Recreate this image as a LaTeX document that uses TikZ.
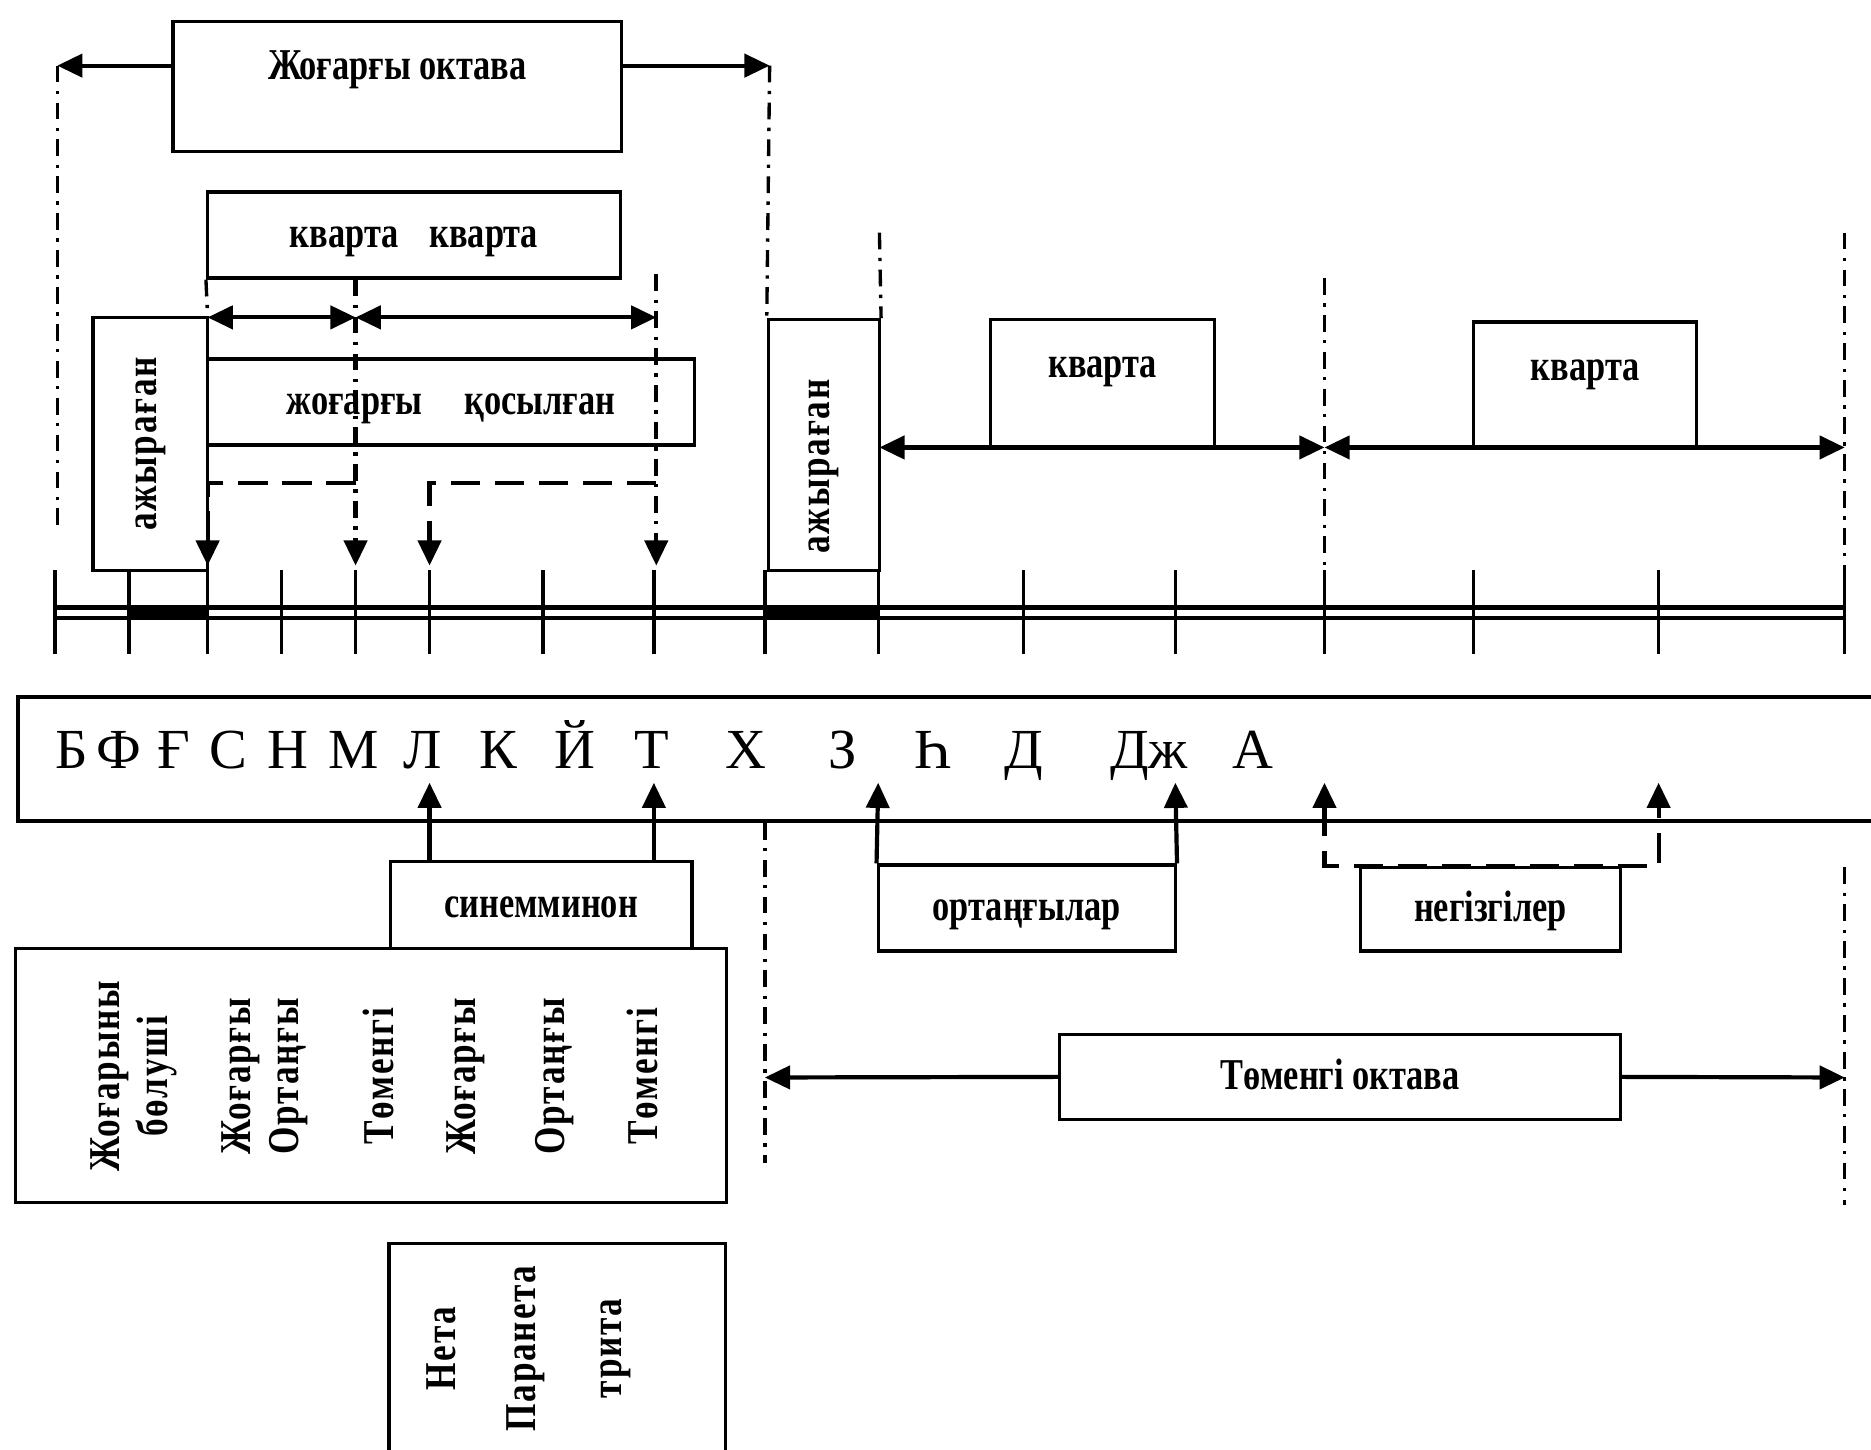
\documentclass[tikz,border=0pt]{standalone}
\usepackage{fontspec}
\setmainfont{Liberation Serif}
\newfontfamily\labfont{Liberation Serif}[FakeStretch=0.78]
\newfontfamily\colfont{Liberation Serif}[FakeStretch=0.8, LetterSpace=4]
\usetikzlibrary{positioning, calc, arrows.meta}

\tikzset{
  box/.style={draw, line width=0.8pt, fill=white, inner sep=0pt,
    text height=2.6mm, text depth=0.5mm,
    font=\labfont\bfseries\fontsize{10.5}{12}\selectfont},
  lab/.style={inner sep=0pt, text height=2.6mm, text depth=0.5mm,
    font=\labfont\bfseries\fontsize{10.5}{12}\selectfont},
  vtxt/.style={rotate=90, inner sep=0pt, align=center,
    font=\colfont\bfseries\fontsize{10.5}{11.5}\selectfont},
  letter/.style={inner sep=0pt, anchor=base, font=\fontsize{13.5}{16}\selectfont},
  arr/.style={line width=1pt, -{Triangle[length=6pt,width=5.5pt]}},
  darr/.style={line width=1pt, {Triangle[length=6pt,width=5.5pt]}-{Triangle[length=6pt,width=5.5pt]}},
  dashdot/.style={line width=0.8pt, dash pattern=on 4pt off 2pt on 0.8pt off 2pt},
  brk/.style={line width=1.1pt, dash pattern=on 7pt off 3.5pt},
}

\begin{document}
\begin{tikzpicture}[x=0.1mm, y=-0.1mm]
  \clip (0,0) rectangle (1568,1215);
  \fill[white] (0,0) rectangle (1568,1215);

  % upper part
  \node[box, minimum width=37.6mm, minimum height=10.9mm] (upoct) at (333,72.5) {};
  \node[lab] (upoctlab) at (333,56) {Жоғарғы октава};
  \node[box, minimum width=34.6mm, minimum height=7.2mm] (kk) at (347,197) {кварта\hspace{2.6mm}кварта};
  \node[box, minimum width=40.8mm, minimum height=7.2mm] (jq) at (378,337) {жоғарғы\hspace{3.5mm}қосылған};
  \node[box, minimum width=9.6mm, minimum height=21.2mm] (ajyA) at (126,372) {};
  \node[vtxt] (ajyAlab) at (ajyA) {ажыраған};
  \node[box, minimum width=9.3mm, minimum height=21mm] (ajyB) at (690.5,373) {};
  \node[vtxt] (ajyBlab) at ([yshift=-1.8mm]ajyB.center) {ажыраған};
  \node[box, minimum width=18.8mm, minimum height=10.7mm] (kvA) at (924,321.5) {};
  \node[lab] (kvAlab) at ([yshift=1.55mm]kvA.center) {кварта};
  \node[box, minimum width=18.7mm, minimum height=10.5mm] (kvB) at (1328.5,322.5) {};
  \node[lab] (kvBlab) at ([yshift=1.45mm]kvB.center) {кварта};

  \coordinate (ul) at (48,55);
  \coordinate (ur) at (645,55);
  \draw[arr] (upoct.west |- ul) -- (ul);
  \draw[arr] (upoct.east |- ur) -- (ur);
  \draw[dashdot] (ul) -- (48,445);
  \draw[dashdot] (ur) -- (ajyB.north west);

  % quarts over the upper tetrachords
  \coordinate (a1) at (174,266);
  \coordinate (a2) at (298,266);
  \coordinate (a3) at (550,266);
  \foreach \x in {174,298,360,550}
    \coordinate (dn\x) at (\x,474);
  \draw[dashdot] (kk.south west) -- (a1);
  \draw[darr] (a1) -- (a2);
  \draw[darr] (a2) -- (a3);
  \draw[dashdot, arr] (kk.south -| a2) -- (dn298);
  \draw[dashdot, arr] (550,230) -- (dn550);
  \draw[brk, arr] (298,405) -- (174,405) -- (dn174);
  \draw[brk, arr] (550,405) -- (360,405) -- (dn360);

  \coordinate (m1) at (737,375);
  \coordinate (m2) at (1110,375);
  \coordinate (m3) at (1546,375);
  \draw[dashdot] (737,195) -- (ajyB.north east);
  \draw[dashdot] (1110,233) -- (1110,478);
  \draw[dashdot] (1546,195) -- (1546,478);
  \draw[darr] (m1) -- (m2);
  \draw[darr] (m2) -- (m3);

  % scale
  \foreach \x in {46,108,174,236,298,360,455,548,641,736,858,985,1110,1235,1390,1546}
    \draw[line width=0.8pt] (\x,478) -- (\x,548);
  \draw[line width=1.1pt] (46,509) -- (1546,509);
  \draw[line width=1.1pt] (46,518) -- (1546,518);
  \fill (108,507) rectangle (174,520);
  \fill (641,507) rectangle (736,520);

  % letters
  \node[draw, line width=0.9pt, inner sep=0pt, minimum width=158.5mm, minimum height=10.4mm] (row) at (807.5,636) {};
  \foreach \l/\x in {Б/60, Ф/100, Ғ/146, С/191, Н/241, М/296, Л/354, К/418, Й/482, Т/546,
                     Х/625, З/706, Һ/782, Д/858, Дж/963, А/1050}
    \node[letter] (let\x) at (\x,644) {\l};

  % lower part
  \node[box, minimum width=25.3mm, minimum height=7.3mm] (sin) at (453.5,758.5) {синемминон};
  \node[box, minimum width=24.9mm, minimum height=7.2mm] (ort) at (860.5,761) {ортаңғылар};
  \node[box, minimum width=21.8mm, minimum height=7mm] (neg) at (1249,762) {негізгілер};
  \node[box, minimum width=47mm, minimum height=7.1mm] (lowoct) at (1123,902.5) {Төменгі октава};
  \node[box, minimum width=59.6mm, minimum height=21.3mm] (cols) at (311,901.5) {};
  \node[box, minimum width=28.2mm, minimum height=21.8mm] (trit) at (467,1151) {};

  \foreach \t/\x [count=\i] in {{Жоғарыны\\бөлуші}/112, {Жоғарғы\\Ортаңғы}/222, Төменгі/317,
                                Жоғарғы/390, Ортаңғы/465, Төменгі/538}
    \node[vtxt] (col\i) at (\x,902) {\t};
  \foreach \t/\x [count=\i] in {Нета/370, Паранета/441, трита/516}
    \node[vtxt] (tri\i) at (\x,1130) {\t};

  \coordinate (uL) at (360,656);
  \coordinate (uT) at (548,656);
  \coordinate (u3) at (736,656);
  \coordinate (u4) at (985,656);
  \coordinate (u5) at (1110,656);
  \coordinate (u6) at (1390,656);
  \draw[arr] (sin.north -| uL) -- (uL);
  \draw[arr] (sin.north -| uT) -- (uT);
  \draw[arr] (ort.north west) -- (u3);
  \draw[arr] (ort.north east) -- (u4);
  \draw[brk, darr] (u5) -- (u5 |- neg.north) -- (u6 |- neg.north) -- (u6);

  \coordinate (lo1) at (641,903);
  \coordinate (lo2) at (1546,903);
  \draw[dashdot] (row.south -| lo1) -- (641,975);
  \draw[dashdot] (1546,727) -- (1546,1010);
  \draw[arr] (lowoct.west) -- (lo1);
  \draw[arr] (lowoct.east) -- (lo2);
\end{tikzpicture}
\end{document}
